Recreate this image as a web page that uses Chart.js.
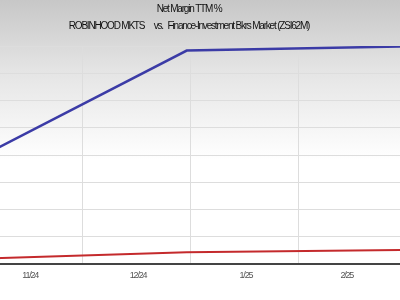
<!DOCTYPE html>
<html>
<head>
<meta charset="utf-8">
<script src="https://cdn.jsdelivr.net/npm/chart.js@4/dist/chart.umd.min.js"></script>
<style>
  html, body { margin: 0; padding: 0; width: 400px; height: 300px; overflow: hidden; }
  body { position: relative; background: linear-gradient(to bottom, #c7c7c7 0px, #e4e4e4 70px, #ffffff 160px); }
  #chart { position: absolute; left: -22px; top: 0; }
</style>
</head>
<body>
<canvas id="chart" width="422" height="300"></canvas>
<script>
// days counted from Nov 1, 2024
const quarterDays = [-32, 60, 150];          // 9/30/24, 12/31/24, 3/31/25
const hoodMargin = [10.7, 47.0, 48.3];        // ROBINHOOD MKTS
const industryMargin = [0.4, 2.6, 3.3];       // Finance-Investment Bkrs Market
const gridDays = [30, 61, 92];                // month boundaries
const tickDays = [15, 46, 77, 106];
const tickLabels = ['11/24', '12/24', '1/25', '2/25'];

const font = "'Liberation Sans', Arial, sans-serif";

// the original uses a narrow face; squeeze the letters
const condense = {
    id: 'condense',
    beforeDraw(chart) { chart.ctx.letterSpacing = '-1.2px'; }
};

const ctx = document.getElementById('chart').getContext('2d');
new Chart(ctx, {
    type: 'line',
    data: {
        datasets: [
            {
                label: 'ROBINHOOD MKTS',
                data: quarterDays.map((d, i) => ({ x: d, y: hoodMargin[i] })),
                borderColor: '#3b3ba6',
                borderWidth: 2.5,
                pointRadius: 0,
                fill: false
            },
            {
                label: 'Finance-Investment Bkrs Market (ZSI62M)',
                data: quarterDays.map((d, i) => ({ x: d, y: industryMargin[i] })),
                borderColor: '#c42a2c',
                borderWidth: 2,
                pointRadius: 0,
                fill: false
            }
        ]
    },
    plugins: [condense],
    options: {
        responsive: false,
        animation: false,
        layout: { padding: 0 },
        plugins: {
            legend: { display: false },
            tooltip: { enabled: false },
            title: {
                display: true,
                text: ['Net Margin TTM %', 'ROBINHOOD MKTS      vs.   Finance-Investment Bkrs Market (ZSI62M)'],
                color: '#111',
                font: { family: font, size: 10, weight: 'normal', lineHeight: 1.75 },
                padding: { top: 0, bottom: 11 }
            }
        },
        scales: {
            x: {
                type: 'linear',
                min: 0,
                max: 121.3,
                afterBuildTicks: axis => { axis.ticks = gridDays.map(v => ({ value: v })); },
                afterFit: axis => { axis.height = 0; },
                ticks: { display: false },
                grid: { color: '#dddddd', lineWidth: 1, drawTicks: false },
                border: { display: false }
            },
            x2: {
                type: 'linear',
                position: 'bottom',
                min: 0,
                max: 121.3,
                afterBuildTicks: axis => { axis.ticks = tickDays.map(v => ({ value: v })); },
                afterFit: axis => { axis.height = 36; },
                ticks: {
                    padding: 6,
                    maxRotation: 0,
                    color: '#555',
                    font: { family: font, size: 9 },
                    callback: (value, index) => tickLabels[index]
                },
                grid: { display: false, drawTicks: false },
                border: { display: true, color: '#444', width: 2 }
            },
            y: {
                min: 0,
                max: 48,
                ticks: { display: false, stepSize: 6 },
                afterFit: axis => { axis.width = 0; },
                grid: { color: '#dddddd', lineWidth: 1, drawTicks: false },
                border: { display: false }
            }
        }
    }
});
</script>
</body>
</html>
